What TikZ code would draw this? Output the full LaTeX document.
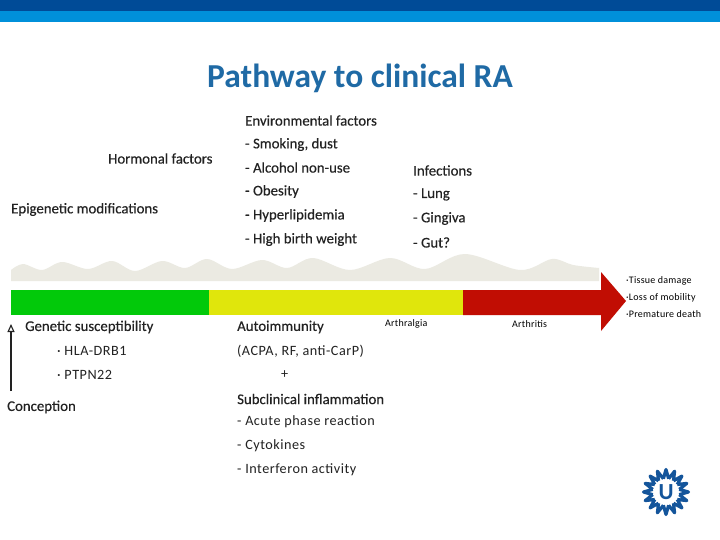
\documentclass[tikz,border=0pt]{standalone}
\usepackage{fontspec}
\setmainfont{Carlito}
\newfontfamily\medf[FakeBold=0.35]{Carlito}
\newfontfamily\lightf[LetterSpace=3.5]{Carlito}
\newfontfamily\tinyf[LetterSpace=2.5]{Carlito}
\usetikzlibrary{arrows.meta}
\definecolor{topdark}{HTML}{004B97}
\definecolor{toplight}{HTML}{0090DA}
\definecolor{titleblue}{HTML}{1F6AA5}
\definecolor{hill}{HTML}{EBEAE2}
\definecolor{bargreen}{HTML}{02C90A}
\definecolor{baryellow}{HTML}{E0E60C}
\definecolor{barred}{HTML}{C10D03}
\definecolor{logoblue}{HTML}{14559B}
\definecolor{ink}{HTML}{222222}
\tikzset{
  lbl/.style={anchor=west,inner sep=0pt,text=ink,font=\medf\fontsize{14.8}{16}\selectfont},
  lblthin/.style={anchor=west,inner sep=0pt,text=ink,font=\lightf\fontsize{14.2}{16}\selectfont},
  small/.style={anchor=west,inner sep=0pt,text=black,font=\tinyf\fontsize{10}{12}\selectfont},
}
\begin{document}
\begin{tikzpicture}[x=1pt,y=-1pt]
\useasboundingbox (0,0) rectangle (720,540);
\fill[white] (0,0) rectangle (720,540);
\fill[topdark] (0,0) rectangle (720,11);
\fill[toplight] (0,11) rectangle (720,22);
\node[anchor=center,inner sep=0pt,text=titleblue,font=\fontsize{33.5}{36}\selectfont\bfseries] (title) at (360,78) {Pathway to clinical RA};
% hills
\fill[hill] (11,281) -- (11,270) -- plot[smooth,tension=.55] coordinates {(11,270) (23,264) (42,270) (62,262) (88,269) (112,261) (135,271) (162,261) (185,268) (207,259) (232,269) (262,260) (287,268) (313,258) (350,270) (390,258) (425,269) (465,254) (520,270) (552,259) (573,265) (599,268)} -- (599,281) -- cycle;
% bar
\fill[bargreen] (11,290) rectangle (209,315);
\fill[baryellow] (209,290) rectangle (463,315);
\fill[barred] (463,290) -- (601,290) -- (601,272) -- (626,301) -- (601,331) -- (601,315) -- (463,315) -- cycle;
% labels
\node[lbl] (env) at (245,120.5) {Environmental factors};
\node[lbl] (env1) at (245,144.5) {- Smoking, dust};
\node[lbl] (env2) at (245,167.5) {- Alcohol non-use};
\node[lbl] (env3) at (245,191.5) {- Obesity};
\node[lbl] (env4) at (245,215.5) {- Hyperlipidemia};
\node[lbl] (env5) at (245,239.5) {- High birth weight};
\node[lbl] (horm) at (108,158.5) {Hormonal factors};
\node[lbl] (epi) at (11,209.5) {Epigenetic modifications};
\node[lbl] (inf) at (413,170.5) {Infections};
\node[lbl] (inf1) at (413,194.5) {- Lung};
\node[lbl] (inf2) at (413,218.5) {- Gingiva};
\node[lbl] (inf3) at (413,242.5) {- Gut?};
\node[lbl] (gen) at (25,327) {Genetic susceptibility};
\node[lblthin] (gen1) at (57,351) {· HLA-DRB1};
\node[lblthin] (gen2) at (57,375) {· PTPN22};
\node[lbl] (con) at (7,407) {Conception};
\node[lbl] (auto) at (237,327) {Autoimmunity};
\node[lblthin] (auto1) at (237,351) {(ACPA, RF, anti-CarP)};
\node[lblthin] (plus) at (281,375) {+};
\node[lbl] (sub) at (237,399) {Subclinical inflammation};
\node[lblthin] (sub1) at (237,422) {- Acute phase reaction};
\node[lblthin] (sub2) at (237,446) {- Cytokines};
\node[lblthin] (sub3) at (237,470) {- Interferon activity};
\node[small] (arthr) at (385,324) {Arthralgia};
\node[small] (arthri) at (512,324) {Arthritis};
\node[small] (t1) at (626,281) {·Tissue damage};
\node[small] (t2) at (626,298) {·Loss of mobility};
\node[small] (t3) at (626,314.5) {·Premature death};
% conception arrow
\coordinate (cbot) at (11,391);
\coordinate (ctop) at (11,324);
\draw[line width=1.4pt,ink,-{Triangle[open,length=8pt,width=7pt,line width=1.1pt]}] (cbot) -- (ctop);
% logo
\begin{scope}[shift={(666,492)}]
\draw[logoblue,line width=3.2pt,line join=round]
  \foreach \a in {0,22.5,...,337.5} {
    (\a-11.25:13.5) -- (\a:22.5) -- (\a+11.25:13.5)
  };
\node[inner sep=0pt,text=logoblue,font=\fontsize{23}{24}\selectfont\bfseries] (logou) at (0,0) {U};
\end{scope}
\end{tikzpicture}
\end{document}
